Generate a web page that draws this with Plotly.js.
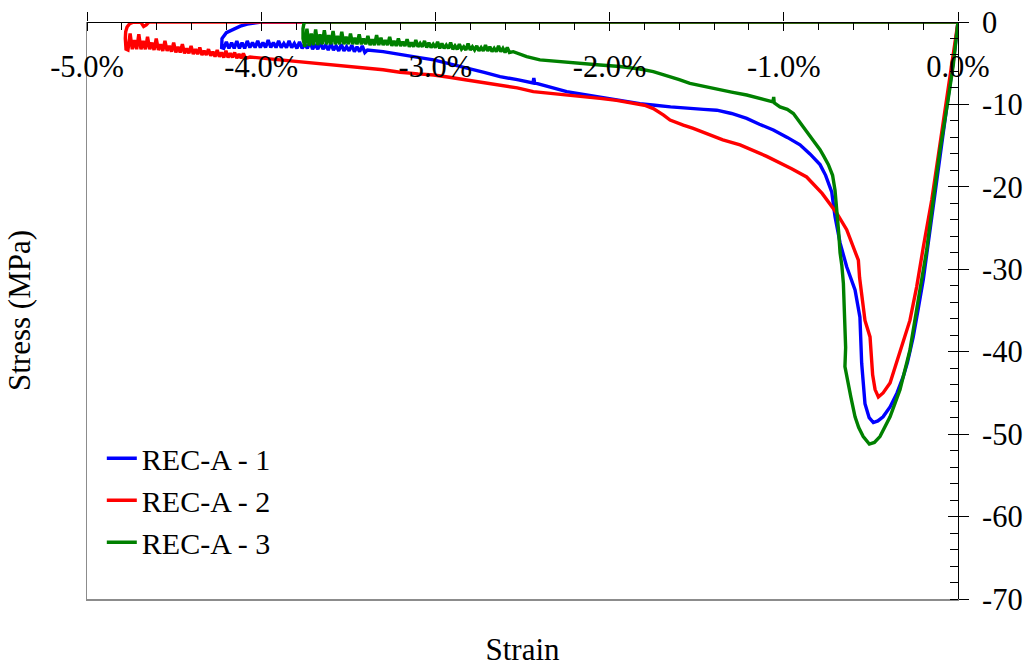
<!DOCTYPE html>
<html>
<head>
<meta charset="utf-8">
<script src="https://cdn.plot.ly/plotly-3.0.1.min.js"></script>
<style>
  html, body { margin: 0; padding: 0; background: #fff; }
  #chart { width: 1027px; height: 667px; }
</style>
</head>
<body>
<div id="chart"></div>
<script>
// Compression test curves: strain in %, stress in MPa.
// Each record loads to its peak, unloads to the left and returns along zero.

const seriesNames = ["REC-A - 1", "REC-A - 2", "REC-A - 3"];
const seriesColors = ["#0000ff", "#ff0000", "#008000"];

const strain1 = [
  0, -0.027, -0.056, -0.1, -0.142, -0.17, -0.199, -0.23, -0.257, -0.29, -0.314, -0.35, -0.39, -0.43, -0.46, -0.486,
  -0.51, -0.534, -0.553, -0.563, -0.591, -0.639, -0.677, -0.706, -0.725, -0.76, -0.792, -0.85, -0.907, -0.98, -1.06,
  -1.14, -1.213, -1.3, -1.385, -1.46, -1.539, -1.65, -1.74, -1.826, -1.94, -2.055, -2.15, -2.246, -2.34, -2.43,
  -2.435, -2.44, -2.53, -2.629, -2.72, -2.82, -2.92, -3.01, -3.1, -3.2, -3.3, -3.39,
  -3.405, -3.42, -3.435, -3.45, -3.465, -3.48, -3.495, -3.51, -3.525, -3.54, -3.555, -3.57, -3.585, -3.6,
  -3.615, -3.63, -3.645, -3.66, -3.675, -3.69, -3.705, -3.72, -3.735, -3.75, -3.765, -3.78, -3.795, -3.81,
  -3.825, -3.84, -3.855, -3.87, -3.885, -3.9, -3.915, -3.93, -3.945, -3.96, -3.975, -3.99, -4.005, -4.02,
  -4.035, -4.05, -4.065, -4.08, -4.095, -4.11, -4.125, -4.14, -4.155, -4.17, -4.185, -4.2, -4.215, -4.227,
  -4.225, -4.2, -4.16, -4.12, -4.08, -4.04, -4.0, 0
];
const stress1 = [
  0, -4.8, -9.0, -15.6, -22.0, -26.5, -31.2, -35.0, -38.2, -41.3, -43.0, -45.0, -46.7, -47.9, -48.4, -48.6,
  -48.0, -46.3, -41.4, -35.8, -32.5, -29.7, -26.8, -23.6, -20.6, -18.6, -17.3, -16.0, -14.9, -14.0, -13.1,
  -12.4, -11.7, -11.1, -10.7, -10.6, -10.5, -10.3, -10.1, -9.9, -9.5, -9.06, -8.8, -8.45, -7.9, -7.4,
  -6.8, -7.4, -7.0, -6.63, -6.1, -5.6, -5.1, -4.6, -4.3, -3.9, -3.6, -3.4,
  -3.7, -2.9, -3.6, -3.0, -3.6, -2.8, -3.5, -3.0, -3.5, -2.7, -3.5, -2.9, -3.4, -2.6,
  -3.4, -2.8, -3.3, -2.5, -3.3, -2.7, -3.3, -2.4, -3.2, -2.7, -3.2, -2.4, -3.2, -2.6,
  -3.1, -2.3, -3.1, -2.6, -3.1, -2.3, -3.1, -2.5, -3.1, -2.2, -3.1, -2.5, -3.1, -2.3,
  -3.1, -2.5, -3.1, -2.3, -3.2, -2.5, -3.2, -2.3, -3.2, -2.5, -3.2, -2.4, -3.2, -3.1,
  -2.0, -1.3, -0.9, -0.5, -0.25, -0.08, 0, 0
];

const strain2 = [
  0, -0.03, -0.06, -0.1, -0.15, -0.199, -0.237, -0.276, -0.333, -0.36, -0.39, -0.43, -0.457,
  -0.476, -0.49, -0.495, -0.505, -0.534, -0.553, -0.565, -0.572, -0.61, -0.639, -0.696, -0.78, -0.869, -0.955,
  -1.098, -1.251, -1.35, -1.443, -1.52, -1.577, -1.653, -1.69, -1.749, -1.8, -1.864, -1.96, -2.055, -2.15,
  -2.246, -2.34, -2.438, -2.53, -2.629, -2.72, -2.82, -2.92, -3.01, -3.1, -3.203, -3.3, -3.394, -3.49, -3.58,
  -3.68, -3.777, -3.87, -3.97, -4.064,
  -4.09, -4.1025, -4.115, -4.1275, -4.14, -4.1525, -4.165, -4.1775, -4.19, -4.2025, -4.215, -4.2275, -4.24,
  -4.2525, -4.265, -4.2775, -4.29, -4.3025, -4.315, -4.3275, -4.34, -4.3525, -4.365, -4.3775, -4.39, -4.4025,
  -4.415, -4.4275, -4.44, -4.4525, -4.465, -4.4775, -4.49, -4.5025, -4.515, -4.5275, -4.54, -4.5525, -4.565,
  -4.5775, -4.59, -4.6025, -4.615, -4.6275, -4.64, -4.6525, -4.665, -4.6775, -4.69, -4.7025, -4.715, -4.7275,
  -4.74, -4.7525, -4.765, -4.776,
  -4.78, -4.778, -4.77, -4.755, -4.735, -4.71, -4.69, -4.675, -4.66, -4.645, 0
];
const stress2 = [
  0, -4.3, -8.6, -14.5, -21.5, -27.3, -32.1, -36.2, -39.8, -41.8, -43.8, -45.0, -45.5,
  -44.6, -42.8, -41.4, -38.2, -36.2, -33.3, -31.0, -28.9, -26.8, -25.2, -23.2, -20.8, -18.8, -17.8,
  -16.3, -14.9, -14.3, -13.5, -12.9, -12.5, -11.9, -11.3, -10.5, -10.1, -9.86, -9.5, -9.26, -9.05,
  -8.86, -8.65, -8.45, -8.0, -7.64, -7.3, -7.04, -6.7, -6.43, -6.3, -6.1, -5.8, -5.6, -5.4, -5.2,
  -5.0, -4.8, -4.6, -4.4, -4.25,
  -4.4, -3.8, -4.4, -3.9, -4.4, -3.7, -4.3, -3.8, -4.3, -3.5, -4.3, -3.7, -4.2,
  -3.4, -4.2, -3.6, -4.1, -3.3, -4.0, -3.5, -4.0, -3.1, -3.9, -3.3, -3.9, -2.9,
  -3.8, -3.2, -3.8, -2.7, -3.7, -3.0, -3.7, -2.5, -3.6, -2.9, -3.5, -2.3, -3.5,
  -2.7, -3.4, -2.0, -3.4, -2.5, -3.3, -1.8, -3.3, -2.3, -3.3, -1.5, -3.3, -2.2,
  -3.3, -1.4, -3.4, -3.3,
  -2.0, -1.2, -0.6, -0.2, -0.02, 0, -0.05, -0.55, -0.35, 0, 0
];

const strain3 = [
  0, -0.027, -0.056, -0.103, -0.142, -0.18, -0.228, -0.276, -0.333, -0.39, -0.448, -0.48, -0.509,
  -0.544, -0.57, -0.591, -0.615, -0.63, -0.649, -0.645, -0.649, -0.658, -0.667, -0.677, -0.685, -0.693, -0.706,
  -0.72, -0.744, -0.77, -0.792, -0.83, -0.869, -0.91, -0.945, -0.98, -1.022, -1.055, -1.058, -1.062, -1.13,
  -1.213, -1.3, -1.405, -1.47, -1.539, -1.6, -1.653, -1.7, -1.749, -1.826, -1.94, -2.055, -2.15, -2.246,
  -2.33, -2.4, -2.476, -2.52, -2.553,
  -2.575, -2.5875, -2.6, -2.6125, -2.625, -2.6375, -2.65, -2.6625, -2.675, -2.6875, -2.7, -2.7125,
  -2.725, -2.7375, -2.75, -2.7625, -2.775, -2.7875, -2.8, -2.8125, -2.825, -2.8375, -2.85, -2.8625,
  -2.875, -2.8875, -2.9, -2.9125, -2.925, -2.9375, -2.95, -2.9625, -2.975, -2.9875, -3.0, -3.0125,
  -3.025, -3.0375, -3.05, -3.0625, -3.075, -3.0875, -3.1, -3.1125, -3.125, -3.1375, -3.15, -3.1625,
  -3.175, -3.1875, -3.2, -3.2125, -3.225, -3.2375, -3.25, -3.2625, -3.275, -3.2875, -3.3, -3.3125,
  -3.325, -3.3375, -3.35, -3.3625, -3.375, -3.3875, -3.4, -3.4125, -3.425, -3.4375, -3.45, -3.4625,
  -3.475, -3.4875, -3.5, -3.5125, -3.525, -3.5375, -3.55, -3.5625, -3.575, -3.5875, -3.6, -3.6125,
  -3.625, -3.6375, -3.65, -3.6625, -3.675, -3.6875, -3.7, -3.7125, -3.725, -3.7375, -3.75,
  -3.76, -3.76, -3.755, -3.745, 0
];
const stress3 = [
  0, -5.2, -9.3, -15.5, -21.6, -27.7, -33.7, -39.8, -44.6, -47.9, -50.3, -51.0, -51.2,
  -50.3, -49.2, -47.9, -45.5, -43.8, -41.8, -39.5, -35.8, -31.7, -29.5, -28.0, -25.5, -23.6, -20.4,
  -18.6, -17.3, -16.3, -15.5, -14.4, -13.3, -12.1, -11.1, -10.6, -10.3, -9.8, -9.1, -9.7, -9.3,
  -8.86, -8.5, -8.05, -7.8, -7.44, -7.0, -6.63, -6.3, -6.03, -5.7, -5.4, -5.22, -5.05, -4.93,
  -4.8, -4.6, -4.2, -3.8, -3.6,
  -3.7, -3.1, -3.7, -3.2, -3.6, -2.9, -3.6, -3.2, -3.6, -3.0, -3.5, -2.8,
  -3.5, -3.1, -3.5, -2.9, -3.4, -3.0, -3.4, -2.6, -3.4, -3.0, -3.3, -2.7,
  -3.3, -2.9, -3.3, -2.5, -3.2, -2.8, -3.2, -2.6, -3.2, -2.4, -3.1, -2.7,
  -3.1, -2.5, -3.1, -2.3, -3.0, -2.6, -3.0, -2.2, -3.0, -2.5, -3.0, -2.1,
  -2.9, -2.4, -2.9, -2.0, -2.9, -2.3, -2.9, -1.8, -2.8, -2.2, -2.8, -1.9,
  -2.8, -1.6, -2.8, -2.1, -2.8, -1.7, -2.7, -2.0, -2.7, -1.5, -2.7, -1.9,
  -2.7, -1.4, -2.7, -1.8, -2.7, -1.2, -2.7, -1.7, -2.7, -1.1, -2.7, -1.6,
  -2.7, -1.0, -2.7, -1.5, -2.8, -0.9, -2.8, -1.4, -2.9, -0.8, -3.0,
  -2.0, -0.8, -0.2, 0, 0
];

// Axis ticks
const xTickVals = [-5, -4, -3, -2, -1, 0];
const xTickText = ["-5.0%", "-4.0%", "-3.0%", "-2.0%", "-1.0%", "0.0%"];
const yTickVals = [0, -10, -20, -30, -40, -50, -60, -70];
const yTickText = ["0", "-10", "-20", "-30", "-40", "-50", "-60", "-70"];

const xs = [strain1, strain2, strain3];
const ys = [stress1, stress2, stress3];

const traces = seriesNames.map((name, i) => ({
  type: "scatter",
  mode: "lines",
  name: name,
  x: xs[i],
  y: ys[i],
  xaxis: "x",
  yaxis: "y",
  legendgroup: "g" + i,
  line: { color: seriesColors[i], width: 3.4 }
}));

// empty traces so every helper axis gets its own subplot
[["x2", "y"], ["x3", "y"], ["x", "y2"], ["x", "y3"]].forEach(([xa, ya]) => {
  traces.push({ type: "scatter", mode: "lines", x: [null], y: [null], xaxis: xa, yaxis: ya,
                showlegend: false, hoverinfo: "skip" });
});

const serif = "Liberation Serif, Times New Roman, Times, serif";
const tickSize = 30.5;
const titleSize = 31;
const legendSize = 30;

const layout = {
  width: 1027,
  height: 667,
  margin: { l: 87, r: 69, t: 22, b: 68, pad: 0 },
  paper_bgcolor: "#ffffff",
  plot_bgcolor: "#ffffff",
  font: { family: serif, size: tickSize, color: "#000" },
  showlegend: true,
  legend: {
    x: 0.017, y: 0.289, xanchor: "left", yanchor: "top",
    bgcolor: "rgba(0,0,0,0)", borderwidth: 0,
    font: { family: serif, size: legendSize, color: "#000" },
    itemwidth: 30, tracegroupgap: 0, traceorder: "grouped"
  },
  // strain axis: line along zero stress at the top, labels beneath it
  xaxis: {
    range: [-5, 0], anchor: "free", position: 1, side: "bottom",
    showline: true, linecolor: "#000", linewidth: 1,
    showgrid: false, zeroline: false,
    tickmode: "array", tickvals: xTickVals, ticktext: xTickText,
    ticks: "outside", ticklen: 8, tickwidth: 1, tickcolor: "#000",
    tickfont: { family: serif, size: tickSize, color: "#000" },
    ticklabelstandoff: 9,
    minor: { tickmode: "linear", tick0: 0, dtick: 0.2, ticks: "outside", ticklen: 7, tickwidth: 1, tickcolor: "#000", showgrid: false }
  },
  // upward half of the major strain ticks
  xaxis2: {
    range: [-5, 0], overlaying: "x", anchor: "y", side: "top",
    showline: false, showgrid: false, zeroline: false, showticklabels: false,
    tickmode: "array", tickvals: xTickVals,
    ticks: "outside", ticklen: 9, tickwidth: 1, tickcolor: "#000"
  },
  // bottom frame line carrying the strain title
  xaxis3: {
    range: [-5, 0], overlaying: "x", anchor: "y", side: "bottom",
    showline: true, linecolor: "#8c8c8c", linewidth: 1.5,
    showgrid: false, zeroline: false, showticklabels: false, ticks: "",
    title: { text: "Strain", font: { family: serif, size: titleSize, color: "#000" }, standoff: 39 }
  },
  // stress axis on the right
  yaxis: {
    range: [-70, 0], anchor: "x", side: "right",
    showline: true, linecolor: "#000", linewidth: 1,
    showgrid: false, zeroline: false,
    tickmode: "array", tickvals: yTickVals, ticktext: yTickText,
    ticks: "outside", ticklen: 10, tickwidth: 1, tickcolor: "#000",
    tickfont: { family: serif, size: tickSize, color: "#000" },
    ticklabelstandoff: 7,
    minor: { tickmode: "linear", tick0: 0, dtick: 2, ticks: "inside", ticklen: 8, tickwidth: 1, tickcolor: "#000", showgrid: false }
  },
  // left frame line carrying the stress title
  yaxis2: {
    range: [-70, 0], overlaying: "y", anchor: "x", side: "left",
    showline: true, linecolor: "#8c8c8c", linewidth: 1.5,
    showgrid: false, zeroline: false, showticklabels: false, ticks: "",
    title: { text: "Stress (MPa)", font: { family: serif, size: titleSize, color: "#000" }, standoff: 45 }
  },
  // left-pointing half of the major stress ticks
  yaxis3: {
    range: [-70, 0], overlaying: "y", anchor: "x", side: "right",
    showline: false, showgrid: false, zeroline: false, showticklabels: false,
    tickmode: "array", tickvals: yTickVals,
    ticks: "inside", ticklen: 10, tickwidth: 1, tickcolor: "#000"
  }
};

Plotly.newPlot("chart", traces, layout, { displayModeBar: false, staticPlot: true });
</script>
</body>
</html>
